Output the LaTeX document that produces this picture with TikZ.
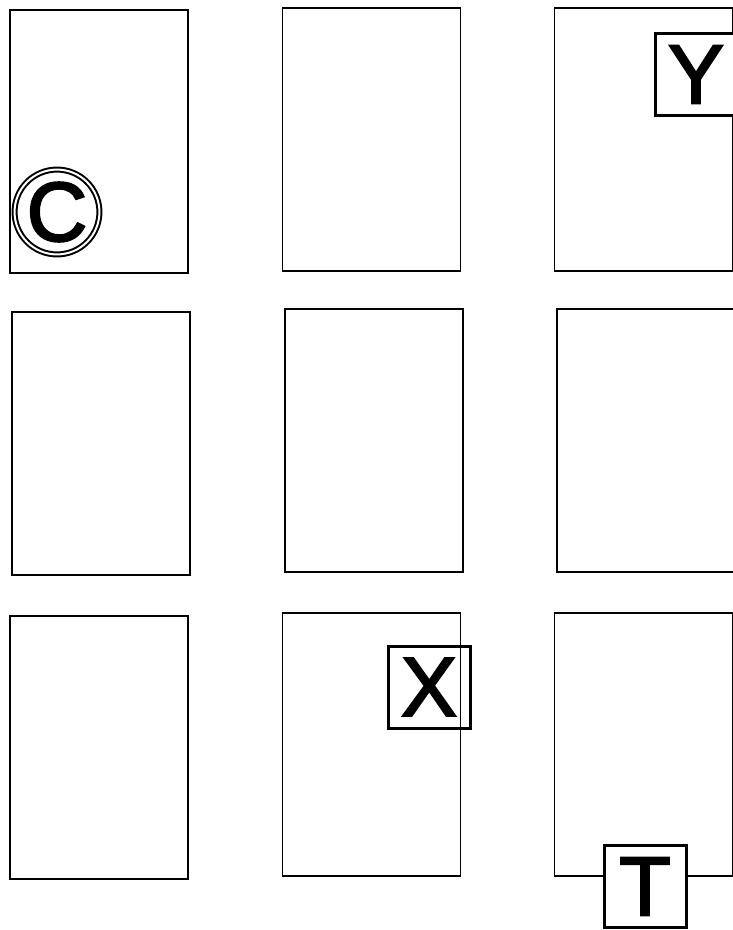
\documentclass[tikz,border=0pt]{standalone}
\usepackage{fontspec}
\setmainfont{Liberation Sans}
\newfontfamily\heavyfont[FakeBold=2.5]{Liberation Sans}
\begin{document}
\begin{tikzpicture}[x=1pt,y=-1pt,
  panel/.style={draw=black,line width=1.8pt,inner sep=0pt,outer sep=0pt,minimum width=178pt,minimum height=263pt},
  letterbox/.style={draw=black,line width=3pt,fill=white,inner sep=0pt,outer sep=0pt,minimum width=82pt,minimum height=82pt,font=\heavyfont\fontsize{84}{84}\selectfont},
  lettercircle/.style={circle,draw=black,line width=2pt,double=white,double distance=2pt,fill=white,inner sep=0pt,minimum size=84pt,font=\heavyfont\fontsize{84}{84}\selectfont}]
\useasboundingbox (0,0) rectangle (733,930);
\fill[white] (0,0) rectangle (733,930);
% panels
\node[panel] (p11) at (99,141.5) {};
\node[panel] (p12) at (371.5,139.5) {};
\node[panel] (p13) at (643.5,139.5) {};
\node[panel] (p21) at (101,443.5) {};
\node[panel] (p22) at (374,440.5) {};
\node[panel] (p23) at (646,440.5) {};
\node[panel] (p31) at (99,747.5) {};
\node[panel] (p32) at (371.5,744.5) {};
\node[panel] (p33) at (643.5,744.5) {};
% labels
\node[lettercircle] (c) at (57,212) {C};
\node[letterbox] (y) at (696,74.5) {Y};
\node[letterbox] (xb) at (429,687) {X};
\draw[line width=1.8pt] (p32.north east) -- (p32.south east);
\node[letterbox] (t) at (645,886.5) {T};
\draw[line width=1.8pt] (p33.south west) -- (t.west |- p33.south);
\draw[line width=1.8pt] (t.east |- p33.south) -- (p33.south east);
\end{tikzpicture}
\end{document}
